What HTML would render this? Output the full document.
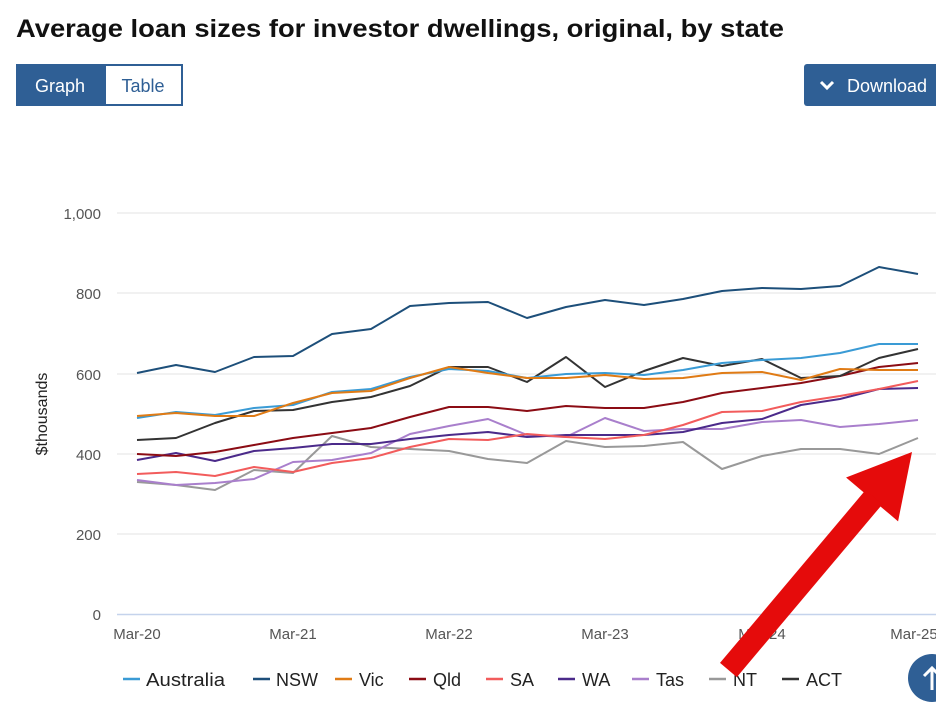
<!DOCTYPE html>
<html><head><meta charset="utf-8"><style>
body{margin:0;background:#fff;width:936px;height:722px;overflow:hidden;font-family:"Liberation Sans",sans-serif;}
</style></head><body>
<svg width="936" height="722" xmlns="http://www.w3.org/2000/svg" font-family="Liberation Sans, sans-serif">
<text x="16" y="37" font-size="25" font-weight="bold" fill="#111" textLength="768" lengthAdjust="spacingAndGlyphs">Average loan sizes for investor dwellings, original, by state</text>
<rect x="16" y="64" width="167" height="42" fill="#2f5f95"/>
<rect x="106" y="66" width="75" height="38" fill="#fff"/>
<text x="60" y="92" font-size="18" fill="#fff" text-anchor="middle">Graph</text>
<text x="143" y="92" font-size="18" fill="#2f5f95" text-anchor="middle">Table</text>
<rect x="804" y="64" width="140" height="42" rx="3" fill="#2f5f95"/>
<path d="M821 82 l6 6 l6 -6" stroke="#fff" stroke-width="3" fill="none"/>
<text x="847" y="92" font-size="18" fill="#fff">Download</text>
<g stroke="#e3e3e3" stroke-width="1">
<line x1="117" y1="213" x2="936" y2="213"/><line x1="117" y1="293" x2="936" y2="293"/><line x1="117" y1="374" x2="936" y2="374"/><line x1="117" y1="454" x2="936" y2="454"/><line x1="117" y1="534" x2="936" y2="534"/>
</g>
<line x1="117" y1="614.5" x2="936" y2="614.5" stroke="#c5d3ec" stroke-width="1.5"/>
<g font-size="15" fill="#555" text-anchor="end">
<text x="101" y="219">1,000</text><text x="101" y="299">800</text><text x="101" y="380">600</text><text x="101" y="460">400</text><text x="101" y="540">200</text><text x="101" y="620">0</text>
</g>
<text transform="translate(47,414) rotate(-90)" font-size="16" fill="#222" text-anchor="middle">$thousands</text>
<g font-size="15" fill="#555" text-anchor="middle">
<text x="137" y="639">Mar-20</text><text x="293" y="639">Mar-21</text><text x="449" y="639">Mar-22</text><text x="605" y="639">Mar-23</text><text x="762" y="639">Mar-24</text><text x="914" y="639">Mar-25</text>
</g>
<g fill="none" stroke-width="2" stroke-linejoin="round">
<polyline stroke="#999999" points="137,482 176,485 215,490 254,470 293,473 332,436 371,447 410,449 449,451 488,459 527,463 566,441 605,447 644,446 683,442 722,469 762,456 801,449 840,449 879,454 918,438"/>
<polyline stroke="#a97fcc" points="137,480 176,485 215,483 254,479 293,462 332,460 371,453 410,434 449,426 488,419 527,435 566,437 605,418 644,431 683,429 722,429 762,422 801,420 840,427 879,424 918,420"/>
<polyline stroke="#4b2a8a" points="137,460 176,453 215,461 254,451 293,448 332,444 371,444 410,439 449,435 488,432 527,437 566,435 605,435 644,435 683,432 722,423 762,419 801,405 840,399 879,389 918,388"/>
<polyline stroke="#f25c5c" points="137,474 176,472 215,476 254,467 293,472 332,463 371,458 410,447 449,439 488,440 527,434 566,437 605,439 644,435 683,425 722,412 762,411 801,402 840,396 879,389 918,381"/>
<polyline stroke="#8b0c14" points="137,454 176,456 215,452 254,445 293,438 332,433 371,428 410,417 449,407 488,407 527,411 566,406 605,408 644,408 683,402 722,393 762,388 801,383 840,376 879,367 918,363"/>
<polyline stroke="#333333" points="137,440 176,438 215,423 254,411 293,410 332,402 371,397 410,386 449,367 488,367 527,382 566,357 605,387 644,371 683,358 722,366 762,359 801,378 840,376 879,358 918,349"/>
<polyline stroke="#3a9bd5" points="137,418 176,412 215,415 254,408 293,405 332,392 371,389 410,377 449,369 488,371 527,378 566,374 605,373 644,375 683,370 722,363 762,360 801,358 840,353 879,344 918,344"/>
<polyline stroke="#e07b15" points="137,416 176,413 215,416 254,416 293,403 332,393 371,391 410,378 449,367 488,373 527,378 566,378 605,375 644,379 683,378 722,373 762,372 801,380 840,369 879,370 918,370"/>
<polyline stroke="#1d4f7a" points="137,373 176,365 215,372 254,357 293,356 332,334 371,329 410,306 449,303 488,302 527,318 566,307 605,300 644,305 683,299 722,291 762,288 801,289 840,286 879,267 918,274"/>
</g>
<g stroke-width="2.5">
<line x1="123" y1="679" x2="140" y2="679" stroke="#3a9bd5"/>
<line x1="253" y1="679" x2="270" y2="679" stroke="#1d4f7a"/>
<line x1="335" y1="679" x2="352" y2="679" stroke="#e07b15"/>
<line x1="409" y1="679" x2="426" y2="679" stroke="#8b0c14"/>
<line x1="486" y1="679" x2="503" y2="679" stroke="#f25c5c"/>
<line x1="558" y1="679" x2="575" y2="679" stroke="#4b2a8a"/>
<line x1="632" y1="679" x2="649" y2="679" stroke="#a97fcc"/>
<line x1="709" y1="679" x2="726" y2="679" stroke="#999999"/>
<line x1="782" y1="679" x2="799" y2="679" stroke="#333333"/>
</g>
<g font-size="18" fill="#222">
<text x="146" y="686" textLength="79" lengthAdjust="spacingAndGlyphs">Australia</text><text x="276" y="686">NSW</text><text x="359" y="686">Vic</text><text x="433" y="686">Qld</text><text x="510" y="686">SA</text><text x="582" y="686">WA</text><text x="656" y="686">Tas</text><text x="733" y="686">NT</text><text x="806" y="686">ACT</text>
</g>
<g transform="translate(912,452) rotate(-49.9)" fill="#e50b0b">
<polygon points="0,0 -62,-34 -62,34"/>
<rect x="-285" y="-11" width="226" height="22"/>
</g>
<circle cx="932" cy="678" r="24" fill="#2f5f95"/>
<path d="M932 690 V668 M924 676 l8 -8 l8 8" stroke="#fff" stroke-width="3" fill="none"/>
</svg>
</body></html>
